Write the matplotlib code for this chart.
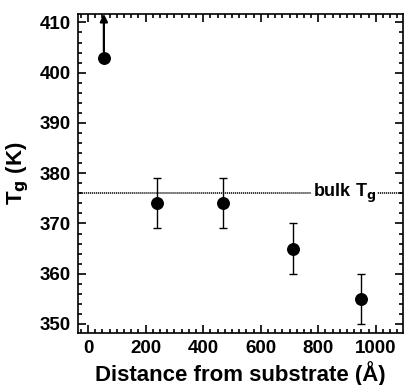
import matplotlib
matplotlib.use("Agg")
import matplotlib.pyplot as plt
from matplotlib.ticker import MultipleLocator

plt.rcParams['font.family'] = ['Liberation Sans', 'DejaVu Sans']
plt.rcParams['font.weight'] = 'bold'

# Glass transition temperature vs distance from substrate
distance = [55, 238, 470, 712, 948]
tg = [403, 374, 374, 365, 355]
tg_err = [0, 5, 5, 5, 5]
bulk_tg = 376

fig = plt.figure(figsize=(4.04, 3.85), dpi=100)
ax = fig.add_axes([0.193, 0.135, 0.805, 0.829])

# points with error bars (first point is a lower bound)
ax.errorbar(distance[1:], tg[1:], yerr=tg_err[1:], fmt='o', color='black',
            markersize=8.3, elinewidth=1.0, capsize=3.2, capthick=1.0)
ax.plot(distance[0], tg[0], 'o', color='black', markersize=8.3)
ax.annotate('', xy=(distance[0], 411.7), xytext=(distance[0], tg[0] + 1.2),
            arrowprops=dict(arrowstyle='-|>', color='black', lw=1.6,
                            mutation_scale=11, shrinkA=0, shrinkB=0))

# bulk value
ax.axhline(bulk_tg, color='black', linestyle=(0, (0.8, 0.5)), linewidth=1.1)
ax.text(1000, bulk_tg, r'bulk T$_\mathbf{g}$', ha='right', va='center',
        fontsize=13, fontweight='bold',
        bbox=dict(facecolor='white', edgecolor='none', pad=1))

ax.set_xlim(-35, 1095)
ax.set_ylim(348.2, 411.7)
ax.xaxis.set_major_locator(MultipleLocator(200))
ax.xaxis.set_minor_locator(MultipleLocator(25))
ax.yaxis.set_major_locator(MultipleLocator(10))
ax.yaxis.set_minor_locator(MultipleLocator(2))
ax.tick_params(which='both', direction='in', top=True, right=True,
               labeltop=False, labelright=False, width=1.2)
ax.tick_params(which='major', length=6, labelsize=13.5, pad=5)
ax.tick_params(which='minor', length=3)
for lab in ax.get_xticklabels() + ax.get_yticklabels():
    lab.set_fontweight('bold')
for s in ax.spines.values():
    s.set_linewidth(1.2)

ax.set_xlabel('Distance from substrate (Å)', fontsize=16, fontweight='bold',
              labelpad=3)
ax.set_ylabel(r'T$_\mathbf{g}$ (K)', fontsize=16, fontweight='bold',
              labelpad=6)

fig.savefig('out.png', dpi=100)
